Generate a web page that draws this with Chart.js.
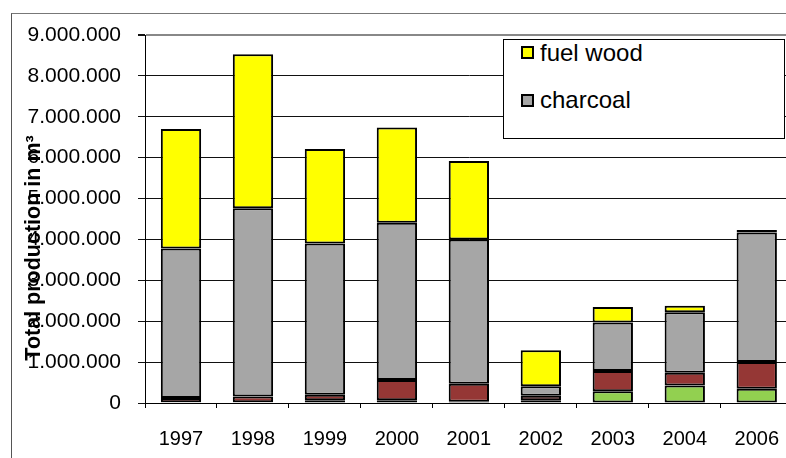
<!DOCTYPE html>
<html>
<head>
<meta charset="utf-8">
<script src="https://cdn.jsdelivr.net/npm/chart.js@4"></script>
<style>
  html, body { margin: 0; padding: 0; background: #fff; overflow: hidden; }
  #wrap { position: relative; width: 798px; height: 458px; }
  #frame { position: absolute; left: 11px; top: 13px; width: 900px; height: 600px; border-left: 1px solid #555; border-top: 1px solid #777; }
  #chart { position: absolute; left: 0; top: 0; }
  .lg-box { position: absolute; left: 503px; top: 39px; width: 280px; height: 98px; border: 1px solid #000; background: #fff; }
  .lg-sw { position: absolute; width: 9px; height: 9px; border: 2px solid #000; }
  .lg-tx { position: absolute; font-family: "Liberation Sans", Arial, sans-serif; font-size: 24px; line-height: 24px; color: #000; white-space: nowrap; }
</style>
</head>
<body>
<div id="wrap">
  <div id="frame"></div>
  <canvas id="chart" width="798" height="458"></canvas>
  <div id="legend"></div>
</div>
<script>
// ---- data ----
const categories = ['1997', '1998', '1999', '2000', '2001', '2002', '2003', '2004', '2006'];
const greenValues    = [20000, 20000, 70000, 70000, 30000, 70000, 290000, 430000, 350000];
const redValues      = [100000, 140000, 130000, 490000, 440000, 110000, 490000, 310000, 650000];
const charcoalValues = [3660000, 4600000, 3700000, 3850000, 3530000, 230000, 1190000, 1480000, 3170000];
const fuelWoodValues = [2920000, 3770000, 2310000, 2330000, 1920000, 880000, 380000, 160000, 60000];
const legendNames = ['fuel wood', 'charcoal'];
const yTickValues = [0, 1000000, 2000000, 3000000, 4000000, 5000000, 6000000, 7000000, 8000000, 9000000];
const yTitle = 'Total production in m³';

const C_YELLOW = '#FFFF00', C_GREY = '#A6A6A6', C_RED = '#953735', C_GREEN = '#92D050';

function fmt(v) { return String(v).replace(/\B(?=(\d{3})+(?!\d))/g, '.'); }

const yTitlePlugin = {
  id: 'yTitle',
  afterDraw(chart) {
    const ctx = chart.ctx;
    ctx.save();
    ctx.translate(34.5, 248);
    ctx.rotate(-Math.PI / 2);
    ctx.font = 'bold 21.5px "Liberation Sans", Arial, sans-serif';
    ctx.fillStyle = '#000';
    ctx.textAlign = 'center';
    ctx.textBaseline = 'middle';
    ctx.fillText(yTitle, 0, 0);
    ctx.restore();
  }
};

const ds = (label, data, color) => ({
  label, data, backgroundColor: color, borderColor: '#000', borderWidth: 2,
  borderSkipped: false, barPercentage: 0.56, categoryPercentage: 1.0
});

new Chart(document.getElementById('chart'), {
  type: 'bar',
  data: {
    labels: categories,
    datasets: [
      ds('', greenValues, C_GREEN),
      ds('', redValues, C_RED),
      ds(legendNames[1], charcoalValues, C_GREY),
      ds(legendNames[0], fuelWoodValues, C_YELLOW)
    ]
  },
  options: {
    responsive: false,
    animation: false,
    devicePixelRatio: 1,
    layout: { padding: { left: 0, right: 0, top: 35, bottom: 0 } },
    plugins: { legend: { display: false }, tooltip: { enabled: false }, title: { display: false } },
    scales: {
      x: {
        stacked: true,
        grid: { display: true, drawOnChartArea: false, drawTicks: true, tickLength: 5, color: '#000', offset: true },
        border: { color: '#000', width: 1 },
        ticks: { color: '#000', padding: 19, maxRotation: 0, font: { family: '"Liberation Sans", Arial, sans-serif', size: 20 } },
        afterFit(s) { s.height = 55; }
      },
      y: {
        stacked: true,
        min: 0, max: 9000000,
        afterBuildTicks(s) { s.ticks = yTickValues.map(v => ({ value: v })); },
        grid: {
          color: c => (c.tick && c.tick.value === 9000000) ? '#888' : '#111',
          lineWidth: c => (c.tick && c.tick.value === 9000000) ? 2 : 1,
          tickColor: '#111',
          drawTicks: true, tickLength: 7
        },
        border: { color: '#000', width: 1 },
        ticks: { color: '#000', padding: 17, font: { family: '"Liberation Sans", Arial, sans-serif', size: 21 }, callback: v => fmt(v) },
        afterFit(s) { s.width = 145; }
      }
    }
  },
  plugins: [yTitlePlugin]
});

// HTML legend built from the legend names and colors
const legendColors = [C_YELLOW, C_GREY];
const swatchTops = [46, 94];
const textTops = [40.5, 88];
let html = '<div class="lg-box"></div>';
legendNames.forEach((n, i) => {
  html += `<div class="lg-sw" style="left:521px;top:${swatchTops[i]}px;background:${legendColors[i]}"></div>`;
  html += `<div class="lg-tx" style="left:540px;top:${textTops[i]}px">${n}</div>`;
});
document.getElementById('legend').innerHTML = html;
</script>
</body>
</html>
